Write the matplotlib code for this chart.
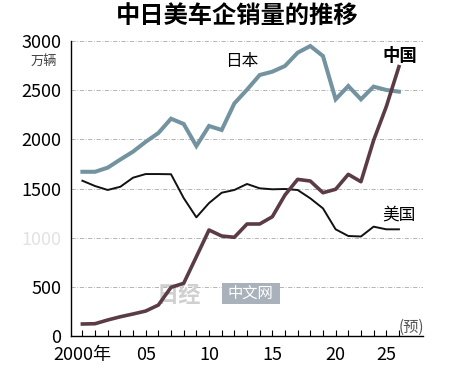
import matplotlib
matplotlib.use("Agg")
import matplotlib.pyplot as plt
import matplotlib.patches as patches

# 数据（从图中读取，单位：万辆）
years = list(range(2000, 2026))
japan = [1670, 1670, 1712, 1795, 1875, 1975, 2064, 2210, 2156, 1932, 2136, 2095,
         2365, 2505, 2654, 2688, 2746, 2881, 2949, 2847, 2407, 2542, 2407, 2536,
         2502, 2485]
usa = [1579, 1525, 1485, 1518, 1610, 1647, 1647, 1645, 1403, 1207, 1352, 1457,
       1485, 1546, 1502, 1492, 1495, 1485, 1400, 1298, 1085, 1017, 1012, 1112,
       1085, 1085]
china = [122, 125, 163, 196, 224, 254, 315, 495, 536, 806, 1078, 1017,
         1004, 1139, 1139, 1213, 1434, 1593, 1576, 1457, 1492, 1644, 1569, 1990,
         2332, 2739]
y_ticks = [0, 500, 1000, 1500, 2000, 2500, 3000]
x_labels = {2000: '2000年', 2005: '05', 2010: '10', 2015: '15', 2020: '20', 2024: '25'}

plt.rcParams['font.family'] = ['Liberation Sans Narrow', 'Noto Sans CJK SC', 'DejaVu Sans']

fig = plt.figure(figsize=(4.75, 3.69), dpi=100)
ax = fig.add_axes([0.1495, 0.0894, 0.741, 0.7995])

# 网格线
for v in y_ticks[1:]:
    ax.axhline(v, color='#a8a8a8', lw=0.6, ls=(0, (5, 2, 1, 2)), zorder=0)

ax.plot(years, japan, color='#7393a0', lw=2.9, solid_joinstyle='miter', zorder=3)
ax.plot(years, usa, color='#111111', lw=1.4, zorder=4)
ax.plot(years, china, color='#5b3b46', lw=2.6, zorder=5)

ax.set_xlim(1999.1, 2026.9)
ax.set_ylim(0, 3000)
ax.set_xticks(years)
ax.set_xticklabels([x_labels.get(y, '') for y in years], fontsize=13)
ax.set_yticks(y_ticks)
ax.set_yticklabels([str(v) for v in y_ticks], fontsize=13)
ax.yaxis.get_ticklabels()[2].set_color('#e2e2e2')  # 被遮挡的1000
ax.tick_params(axis='x', direction='in', length=4, width=0.8, pad=7)
ax.tick_params(axis='y', length=0, pad=7)

for s in ['top', 'right']:
    ax.spines[s].set_visible(False)
ax.spines['left'].set_linewidth(1.0)
ax.spines['bottom'].set_linewidth(1.0)

# 标签
ax.text(2012.6, 2790, '日本', fontsize=12, family='Noto Sans CJK SC', ha='center', va='center')
ax.text(2025.1, 2850, '中国', fontsize=12.5, family='Noto Sans CJK SC', weight='bold',
        ha='center', va='center')
ax.text(2025.0, 1230, '美国', fontsize=12, family='Noto Sans CJK SC', ha='center', va='center')
ax.text(2025.0, 85, '(预)', fontsize=11, family='Noto Sans CJK SC', color='#555555',
        ha='left', va='center')
ax.text(-0.04, 0.93, '万辆', transform=ax.transAxes, fontsize=9.5, family='Noto Sans CJK SC',
        color='#444444', ha='right', va='center')

# 水印
ax.add_patch(patches.Rectangle((0.429, 0.108), 0.165, 0.072, transform=ax.transAxes,
                               facecolor='#a9b1ba', edgecolor='none', zorder=2))
ax.text(0.511, 0.144, '中文网', transform=ax.transAxes, fontsize=11, color='white',
        family='Noto Sans CJK SC', ha='center', va='center', zorder=2)
ax.text(0.307, 0.139, '日经', transform=ax.transAxes, fontsize=16, color='#d0d0d0',
        family='Noto Sans CJK SC', weight='bold', ha='center', va='center', zorder=2)

fig.text(0.5, 0.958, '中日美车企销量的推移', fontsize=17.5, family='Noto Sans CJK SC',
         weight='bold', ha='center', va='center')

fig.savefig('out.png', dpi=100)
